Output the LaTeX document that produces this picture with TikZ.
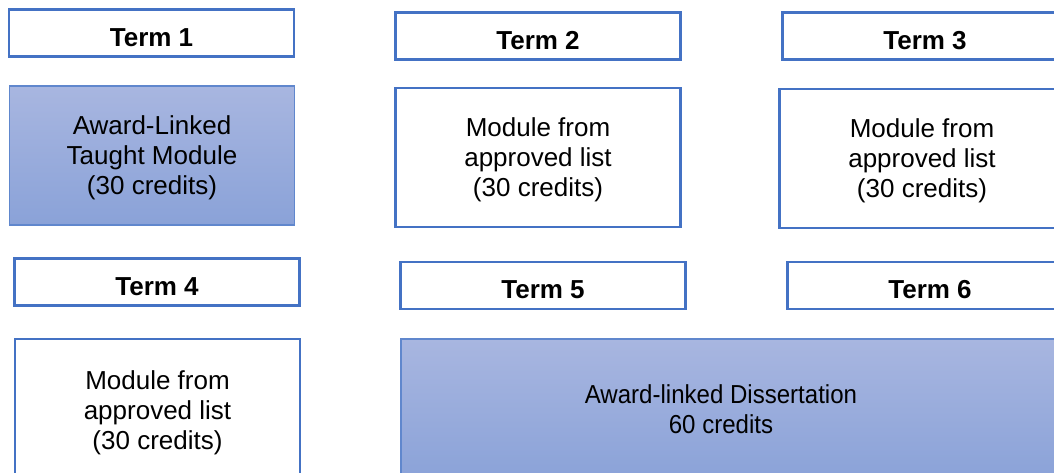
\documentclass[tikz,border=0pt]{standalone}
\usepackage{fontspec}
\setmainfont{Liberation Sans}
\newfontfamily\narrowfont[FakeStretch=0.925]{Liberation Sans}
\usepackage{tikz}

\definecolor{boxblue}{HTML}{4472C4}
\definecolor{shadetop}{HTML}{A8B6E0}
\definecolor{shadebot}{HTML}{8AA2D8}

\begin{document}
\begin{tikzpicture}
  [x=1pt,y=-1pt,
   every node/.style={draw=boxblue,line width=2.5pt,align=center,inner sep=0pt,
     font=\fontsize{26}{30}\selectfont},
   term/.style={minimum width=285pt,minimum height=47pt,text height=27pt,
     font=\fontsize{26}{30}\selectfont\bfseries},
   module/.style={minimum width=285pt,minimum height=139pt,text depth=-6pt},
   award/.style={top color=shadetop,bottom color=shadebot,draw=boxblue!85,line width=1.5pt}]
  \useasboundingbox (0,0) rectangle (1054,472);
  \clip (0,0) rectangle (1054,472);

  \node[term] (t1) at (151.5,33) {Term 1};
  \node[term] (t2) at (538,36) {Term 2};
  \node[term] (t3) at (925,36) {Term 3};

  \node[module,award] (m1) at (152,155.5) {Award-Linked\\Taught Module\\(30 credits)};
  \node[module] (m2) at (538,157.5) {Module from\\approved list\\(30 credits)};
  \node[module] (m3) at (922,158.5) {Module from\\approved list\\(30 credits)};

  \node[term] (t4) at (157,282) {Term 4};
  \node[term] (t5) at (543,285.5) {Term 5};
  \node[term] (t6) at (930,285.5) {Term 6};

  \node[module,minimum height=142pt,text depth=0pt] (m4) at (157.5,410) {Module from\\approved list\\(30 credits)};
  \node[award,minimum width=680pt,minimum height=142pt] (diss) at (741,410) {};
  \node[draw=none,font=\fontsize{26}{30}\narrowfont] (disstext) at (721,409) {Award-linked Dissertation\\60 credits};
\end{tikzpicture}
\end{document}
